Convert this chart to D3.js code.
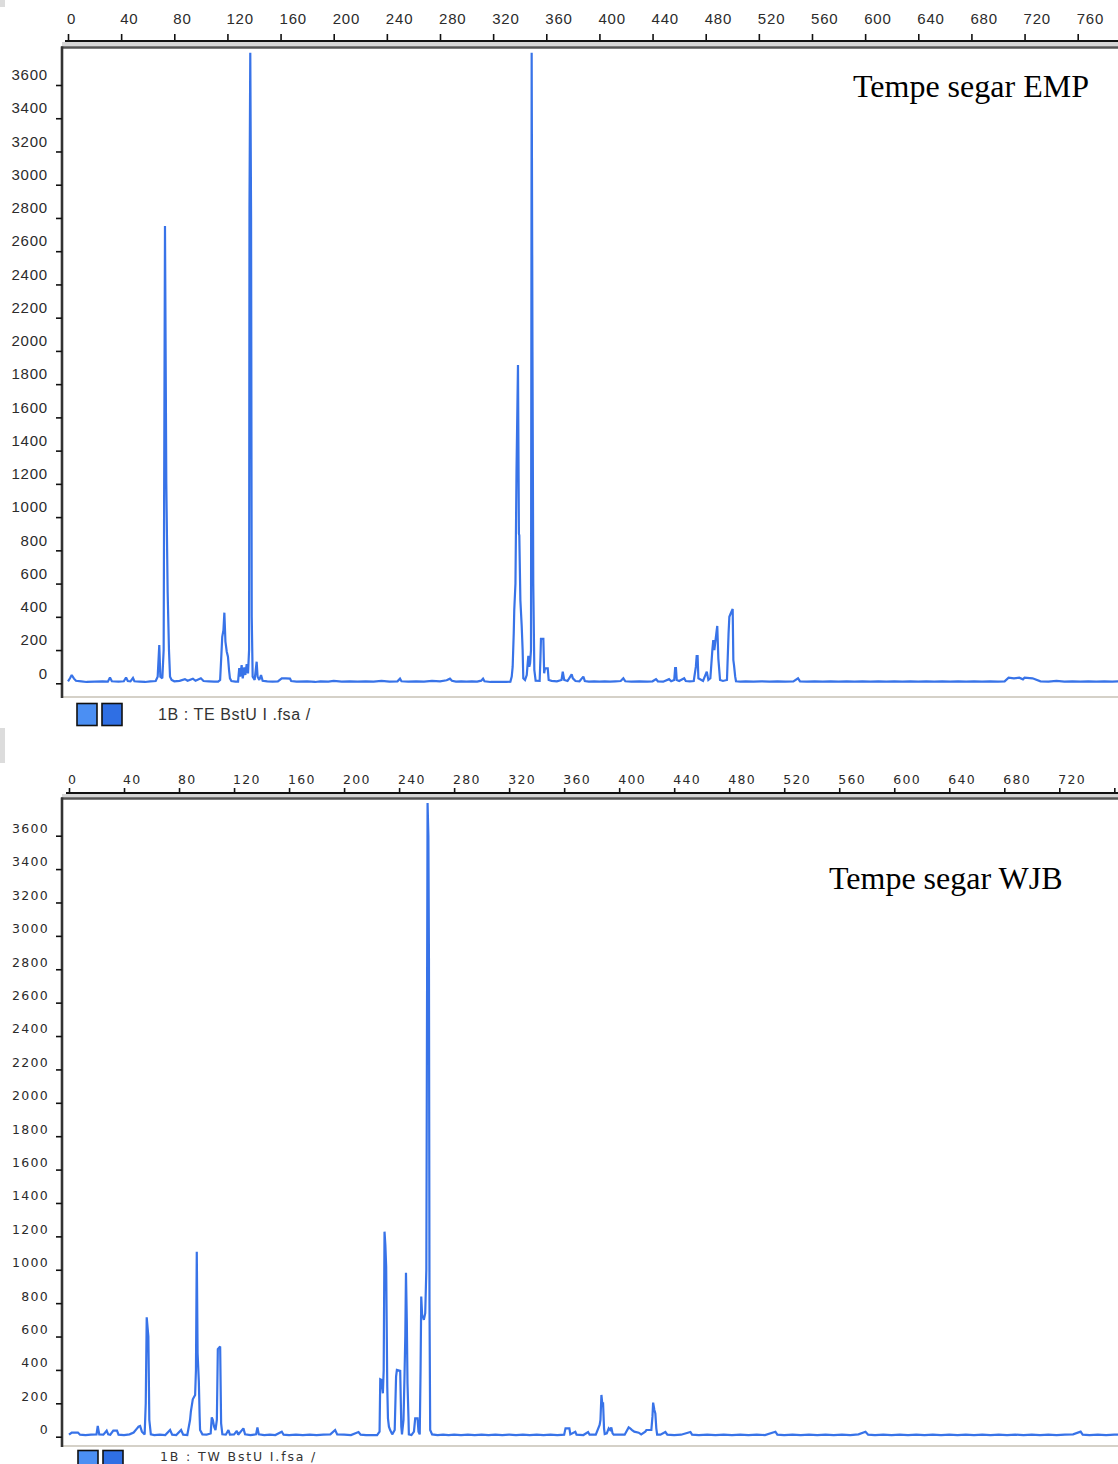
<!DOCTYPE html>
<html>
<head>
<meta charset="utf-8">
<script src="https://cdn.jsdelivr.net/npm/d3@7"></script>
<style>
  body { margin: 0; background: #fff; }
  svg { display: block; }
</style>
</head>
<body>
<div id="chart"></div>
<script>
// Electropherogram traces: fragment size (bp) and signal (RFU)
const empBp = [0,1.5,2.8,4.5,6,10,14,20,26,30,31.6,33,38,42,43.7,45,47,48.9,50,54,58,62,66,67.5,68.7,69.5,71,72,73,74,75,76,76.8,78,80,84,88,90,94,96,100,102,106,110,113,114.5,115.5,116.1,117,117.7,118.5,119.5,120.4,121.2,121.9,123,126,128,128.9,129.6,130.7,131.5,132.7,133.5,134.5,135.5,136.3,136.6,137.2,137.8,138.3,139,140.5,142,142.7,144,145.3,146.5,150,154,158,160.9,164,167.1,168,172,180,186,190,196,200,206,212,218,224,230,236,242,248,249.9,251,256,262,268,274,280,285,287.5,289,292,296,300,304,308,311,312.4,313.5,318,322,326,330,333,334,334.7,335.5,335.9,336.8,337.6,338.7,339.4,339.7,340.5,341.5,342.2,342.7,344,345.3,346,346.5,347.2,347.8,348.5,349,349.6,350.2,351,352,355,355.6,356,357.8,358.4,359,361.1,361.8,364,368,371.5,372.4,373.5,376,379.1,380,382,385,387.9,389,392,396,400,404,408,412,416,418,419.5,424,430,436,440,442.6,444,448,452.4,454,456.3,457,457.6,458.2,460,463.8,465,468,471,472.6,473.2,473.9,474.5,478,480.8,482,483.5,485,485.7,486.5,488,488.7,489.5,490.8,493,496,497.2,497.8,498.8,500.3,500.8,501.3,502.2,502.8,506,510,516,522,528,534,540,546,549.5,551,556,562,568,574,580,586,592,598,604,610,616,622,628,634,640,646,652,658,664,670,676,682,688,694,700,705,708,712,716,718.8,720,726,732,738,744,750,756,762,768,774,780,786,792];
const empRfu = [12,30,50,28,15,12,8,10,12,10,35,12,10,12,35,14,12,32,12,10,8,12,14,40,230,40,30,200,2752,1200,551,200,40,20,12,15,25,15,28,15,30,14,12,10,10,20,180,280,320,425,250,190,160,80,30,14,10,10,92,40,110,30,95,50,116,60,200,2870,3794,2800,400,40,20,130,40,20,50,15,12,10,12,30,30,28,14,10,12,8,12,10,14,10,12,10,12,10,14,10,12,28,12,10,12,10,14,12,18,28,15,10,12,10,12,10,16,28,12,8,8,8,8,10,40,100,300,441,600,1280,1915,900,890,500,345,200,30,20,50,120,165,100,120,200,3794,2000,600,80,15,14,150,267,267,60,90,90,20,15,12,20,70,20,14,54,30,14,12,40,14,10,12,10,12,10,12,14,30,12,10,12,10,12,25,12,10,25,12,20,92,92,20,14,30,14,12,14,100,164,164,30,14,70,20,30,200,260,200,300,345,150,20,14,20,300,400,420,447,140,110,40,12,10,12,10,12,10,12,10,12,30,12,10,12,10,12,10,12,10,12,10,12,10,12,10,12,10,12,10,12,10,12,10,12,10,12,10,12,34,30,34,24,34,30,12,10,14,10,12,10,12,10,12,10,12,10,12];

const wjbBp = [0,2,4,6.5,8,12,16,20,20.9,22,25,27.4,28.5,30,32.2,34.9,36,40,44,47,49.5,50.5,51.7,53,55,55.8,56.5,57.7,58.4,59.5,62,66,70,73.5,75,78,81.5,83,86,88,88.6,90,91.7,92.3,92.9,93.5,94.4,95,95.3,97,100,103,103.8,104.6,105.5,106.5,107.5,108.2,109.9,110.6,111.5,114,115.9,117,120,122,123,126.8,128,132,136,137,138,142,146,150,154.7,156,160,165,170,175,180,185,190,193.5,195,200,205,210.5,212,216,220,224,225.8,226.3,227.2,228.2,228.8,229.4,230,230.6,231.4,231.9,232.6,233.5,235,236.8,237.8,238.4,240.8,241.6,242.1,243.2,243.9,244.5,245,245.6,246.1,246.8,247.1,249,250.8,251.7,253.4,254.1,255,255.6,256.1,256.8,257.3,258,259,259.8,260.7,261.3,261.7,262.1,262.6,264,268,272,276,280,285,290,295,300,305,310,315,320,325,330,335,340,345,350,355,360,361,362.1,363.8,364.5,368.1,369,374,377.4,378.5,383,385.8,386.4,387.1,387.7,388.3,389,389.5,391,392.4,393.4,394.3,395.2,396,400,404,406.9,408,409.4,411,414.2,416,419,419.8,423.4,424.2,424.7,425.6,426.3,427,427.6,430,433.6,435,440,445,451.8,453,458,464,470,476,482,488,494,500,506,513.6,515,520,526,532,538,544,550,556,562,568,574,579.1,581,586,592,598,604,610,616,622,628,634,640,646,652,658,664,670,676,682,688,694,700,706,712,718,724,730,735.5,737,742,748,754,760,766];
const wjbRfu = [12,25,25,25,12,10,12,14,64,14,12,36,14,12,36,36,12,10,14,25,50,60,64,30,14,200,715,600,100,14,10,12,10,40,12,10,40,12,10,100,150,224,250,400,1108,500,330,120,40,14,12,20,116,100,60,40,100,524,540,80,14,12,40,12,14,35,12,50,14,10,14,56,14,10,12,10,30,12,10,12,10,12,10,12,14,40,14,12,10,28,12,10,10,10,30,344,340,260,400,1228,1150,1018,300,110,60,40,14,40,360,400,395,60,14,100,350,600,982,700,320,120,14,10,30,110,110,30,14,400,839,720,720,700,740,1000,3796,3600,2860,800,40,14,10,12,10,12,10,12,10,12,10,12,10,12,10,12,10,12,10,12,10,12,50,50,50,14,30,12,10,28,12,12,70,100,250,200,200,50,16,20,50,40,56,20,12,12,12,56,50,40,30,24,14,30,40,40,120,204,160,140,50,12,12,28,12,10,12,28,12,10,12,10,12,10,12,10,12,10,30,12,10,12,10,12,10,12,10,12,10,14,30,12,10,12,10,12,10,12,10,12,10,12,10,12,10,12,10,12,10,12,10,12,10,12,10,12,14,30,12,10,12,10,12,12];

// Axis tick values
const rfuTicks = [0,200,400,600,800,1000,1200,1400,1600,1800,2000,2200,2400,2600,2800,3000,3200,3400,3600];
const bpTicks = [0,40,80,120,160,200,240,280,320,360,400,440,480,520,560,600,640,680,720,760];
const panelTitles = ["Tempe segar EMP", "Tempe segar WJB"];
const fileLabels = ["1B : TE BstU I .fsa /", "1B : TW BstU I.fsa /"];

const W = 1118, H = 1464;
const traceColor = "#3873e8";
const fmt = d3.format("d");

const svg = d3.select("#chart").append("svg")
  .attr("width", W).attr("height", H)
  .attr("viewBox", `0 0 ${W} ${H}`);

// Light grey slivers at the left edge
svg.append("rect").attr("x", 0).attr("y", 0).attr("width", 5).attr("height", 7).attr("fill", "#dcdcdc");
svg.append("rect").attr("x", 0).attr("y", 728).attr("width", 5).attr("height", 35).attr("fill", "#dcdcdc");

const panels = [
  {
    bp: empBp, rfu: empRfu, title: panelTitles[0], file: fileLabels[0],
    xDomain: [0, 760], xRange: [68, 1077.7],
    yRange: [683.3, 85],
    axisY: 41, frameTop: 47.5, frameBottom: 697, frameLeft: 62, xTickSize: 7,
    tickFont: "'Liberation Sans', Arial, sans-serif", tickSize: 15, tickSpacing: 0.8,
    xLabelY: 19, yLabelShift: -10.5, yLabelX: 48,
    titleX: 853, titleY: 97,
    legendY: 703.5, legendX: 77, fileX: 158, fileY: 719.5, fileFont: "'Liberation Sans', Arial, sans-serif", fileSize: 16, fileSpacing: 0.6,
    showLast: true
  },
  {
    bp: wjbBp, rfu: wjbRfu, title: panelTitles[1], file: fileLabels[1],
    xDomain: [0, 720], xRange: [69, 1059.3],
    yRange: [1436.7, 835.7],
    axisY: 793, frameTop: 798.5, frameBottom: 1446, frameLeft: 62, xTickSize: 5,
    tickFont: "'DejaVu Sans', Verdana, sans-serif", tickSize: 12.5, tickSpacing: 1.3,
    xLabelY: 779.5, yLabelShift: -7.5, yLabelX: 49,
    titleX: 829, titleY: 889,
    legendY: 1450.5, legendX: 78, fileX: 160, fileY: 1460.5, fileFont: "'DejaVu Sans', Verdana, sans-serif", fileSize: 12.5, fileSpacing: 1.85,
    showLast: false
  }
];

panels.forEach((p, i) => {
  const g = svg.append("g");
  const x = d3.scaleLinear().domain(p.xDomain).range(p.xRange);
  const y = d3.scaleLinear().domain([0, 3600]).range(p.yRange);

  // Top ruler: axis line, grey band, frame top
  g.append("rect").attr("x", p.frameLeft).attr("y", p.axisY + 1)
    .attr("width", W - p.frameLeft).attr("height", p.frameTop - p.axisY - 2)
    .attr("fill", "#d6d6d6");
  g.append("line").attr("x1", p.xRange[0] - 3).attr("x2", W)
    .attr("y1", p.axisY).attr("y2", p.axisY)
    .attr("stroke", "#111").attr("stroke-width", 1.8);
  g.append("line").attr("x1", p.frameLeft - 1).attr("x2", W)
    .attr("y1", p.frameTop).attr("y2", p.frameTop)
    .attr("stroke", "#555").attr("stroke-width", 2.5);

  // Size ticks along the top
  const xAxis = d3.axisTop(x)
    .tickValues(bpTicks)
    .tickSize(p.xTickSize)
    .tickSizeOuter(0)
    .tickFormat(d => (p.showLast || d <= p.xDomain[1]) ? fmt(d) : "");
  const xg = g.append("g").attr("transform", `translate(0,${p.axisY})`).call(xAxis);
  xg.select(".domain").remove();
  xg.selectAll(".tick line").attr("stroke", "#111").attr("stroke-width", 1.6);
  xg.selectAll(".tick text")
    .attr("text-anchor", "start")
    .attr("x", -1.5)
    .attr("y", p.xLabelY - p.axisY)
    .attr("dy", "0.35em")
    .attr("fill", "#2b2b2b")
    .style("font-family", p.tickFont)
    .style("font-size", p.tickSize + "px")
    .style("letter-spacing", p.tickSpacing + "px");

  // Frame: bottom rule and left edge
  g.append("line").attr("x1", p.frameLeft).attr("x2", W)
    .attr("y1", p.frameBottom).attr("y2", p.frameBottom)
    .attr("stroke", "#d5d1c8").attr("stroke-width", 2);
  g.append("line").attr("x1", p.frameLeft).attr("x2", p.frameLeft)
    .attr("y1", p.frameTop - 1).attr("y2", p.frameBottom + 1)
    .attr("stroke", "#333").attr("stroke-width", 2.6);

  // Signal axis on the left
  const yAxis = d3.axisLeft(y).tickValues(rfuTicks).tickSize(6).tickSizeOuter(0).tickFormat(fmt);
  const yg = g.append("g").attr("transform", `translate(${p.frameLeft},0)`).call(yAxis);
  yg.select(".domain").remove();
  yg.selectAll(".tick line").attr("stroke", "#111").attr("stroke-width", 1.6);
  yg.selectAll(".tick text")
    .attr("x", p.yLabelX - p.frameLeft)
    .attr("y", p.yLabelShift)
    .attr("dy", "0.35em")
    .attr("text-anchor", "end")
    .attr("fill", "#2b2b2b")
    .style("font-family", p.tickFont)
    .style("font-size", p.tickSize + "px")
    .style("letter-spacing", p.tickSpacing + "px");

  // Trace, clipped to the plotting frame
  const clipId = "clip" + i;
  svg.append("clipPath").attr("id", clipId).append("rect")
    .attr("x", p.frameLeft + 1.5).attr("y", p.frameTop + 1.5)
    .attr("width", W - p.frameLeft).attr("height", p.frameBottom - p.frameTop - 2.5);
  const pts = p.bp.map((b, k) => [b, p.rfu[k]]);
  const line = d3.line().x(d => x(d[0])).y(d => y(d[1])).curve(d3.curveLinear);
  g.append("path")
    .datum(pts)
    .attr("clip-path", `url(#${clipId})`)
    .attr("d", line)
    .attr("fill", "none")
    .attr("stroke", traceColor)
    .attr("stroke-width", 2.2)
    .attr("stroke-linejoin", "miter")
    .attr("stroke-miterlimit", 2);

  // Sample title
  g.append("text")
    .attr("x", p.titleX).attr("y", p.titleY)
    .attr("fill", "#000")
    .style("font-family", "'Liberation Serif', 'Times New Roman', serif")
    .style("font-size", "32px")
    .text(p.title);

  // Dye colour swatches and file name
  const swatches = ["#4b8ff3", "#2f6fe4"];
  swatches.forEach((c, k) => {
    g.append("rect")
      .attr("x", p.legendX + k * 25).attr("y", p.legendY)
      .attr("width", 20).attr("height", 22)
      .attr("fill", c).attr("stroke", "#111").attr("stroke-width", 1.6);
  });
  g.append("text")
    .attr("x", p.fileX).attr("y", p.fileY)
    .attr("fill", "#333")
    .style("font-family", p.fileFont)
    .style("font-size", p.fileSize + "px")
    .style("letter-spacing", p.fileSpacing + "px")
    .text(p.file);
});
</script>
</body>
</html>
